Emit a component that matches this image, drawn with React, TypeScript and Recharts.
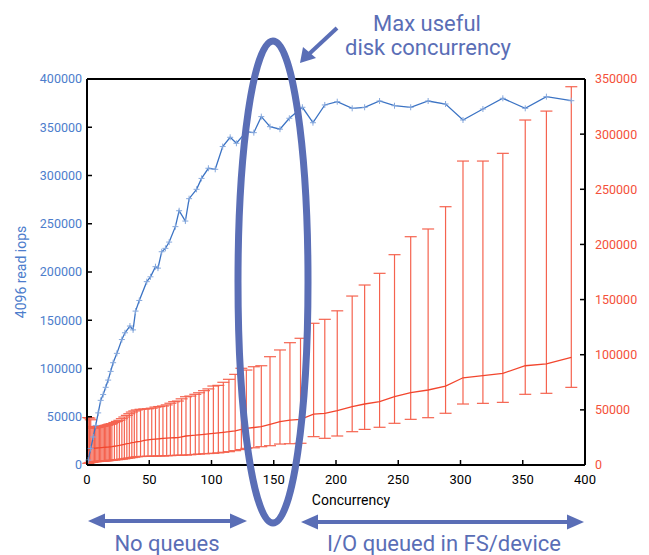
import React from 'react';
import { ComposedChart, Line, XAxis, YAxis, ErrorBar } from 'recharts';

// ---- data ----
const blueX = [1, 3, 5, 7, 9, 11, 13, 15, 17, 19, 21, 24, 28, 30.5, 34.5, 37, 39, 42, 48, 51, 55, 57, 60, 63, 66, 71, 74, 79, 82, 88, 92, 97.5, 103, 109, 115, 120, 128, 134, 140, 147, 155, 162.5, 173, 181.5, 191, 201, 213, 223, 235, 247, 260, 274, 288, 302, 318, 334, 352, 369, 389];
const blueIops = [5000, 17000, 29000, 41000, 54000, 67000, 73000, 80500, 88000, 97000, 106000, 115700, 130000, 137000, 144000, 140000, 159500, 170500, 190000, 195000, 205500, 204000, 221000, 224500, 231000, 247000, 263500, 252800, 276000, 285700, 297000, 307500, 306400, 330000, 339600, 333400, 345400, 344400, 361000, 350600, 348000, 359300, 370700, 354700, 373100, 376500, 369600, 370700, 377200, 372300, 370700, 377200, 374100, 357500, 368900, 380000, 369600, 381700, 377500];

const redX = [1, 2, 3, 4, 5, 6, 7, 8, 9, 10, 11, 12, 13, 14, 15, 16, 17, 18, 19, 20, 22, 24, 26, 28, 30, 32, 34, 36, 38, 40, 43, 46, 49, 52, 55, 58, 61, 64, 67, 70, 73, 76, 79.5, 83, 87, 90, 94, 97.5, 101.5, 105.5, 109.5, 114, 119, 124, 128, 134, 140, 147, 155, 163, 171.5, 182, 191, 201, 213, 223, 235, 247, 260, 274, 288, 302, 318, 334, 352, 369, 389];
const redMean = [13500, 14200, 14700, 15000, 15100, 15200, 15300, 15400, 15500, 15600, 15700, 15800, 15900, 16000, 16100, 16200, 16300, 16400, 16500, 16600, 17000, 17400, 17800, 18300, 18800, 19300, 19700, 20200, 20600, 21100, 21500, 22300, 22800, 23200, 23500, 23800, 24200, 24400, 24600, 24700, 24800, 25400, 26300, 26600, 27000, 27400, 27800, 28200, 28700, 29100, 29600, 30200, 31000, 32200, 33300, 34000, 34700, 36800, 39300, 40600, 41400, 46200, 46900, 49200, 52900, 55300, 57400, 61900, 65600, 68000, 71600, 79100, 81000, 83100, 90000, 91600, 97600];
const redLow = [1500, 2000, 2500, 2500, 2800, 3000, 3000, 3200, 3200, 3400, 3400, 3500, 3600, 3700, 3800, 3900, 4000, 4100, 4200, 4300, 4500, 4800, 5000, 5300, 5600, 6000, 6300, 6700, 7100, 7500, 7700, 7800, 7900, 8000, 8100, 8200, 8200, 8400, 8500, 8700, 8800, 8900, 9000, 9300, 9600, 9900, 10200, 10400, 10600, 11000, 11500, 12100, 13000, 14000, 15100, 15600, 16600, 17500, 19000, 19300, 19700, 25700, 24200, 26300, 30200, 32300, 34200, 37800, 41400, 42900, 46900, 55300, 55900, 56800, 64100, 65000, 70400];
const redHigh = [43000, 42500, 41000, 35000, 33500, 33500, 34000, 34000, 34500, 34500, 35000, 35000, 35500, 35500, 36000, 36000, 36500, 37000, 37000, 37500, 38500, 39500, 40500, 42000, 43500, 45000, 46500, 48000, 49000, 49900, 50500, 50800, 51000, 51500, 52500, 53000, 53500, 54500, 56000, 57400, 58000, 60000, 61900, 62500, 64100, 65500, 67400, 69000, 71600, 72200, 75000, 77700, 82200, 87700, 86100, 89100, 90000, 98200, 104300, 110900, 114900, 128500, 132100, 139800, 153200, 163200, 173800, 190700, 207000, 214000, 234200, 275600, 275600, 282600, 312800, 320900, 343000];

const xTicks = [0, 50, 100, 150, 200, 250, 300, 350, 400];
const leftTicks = [0, 50000, 100000, 150000, 200000, 250000, 300000, 350000, 400000];
const rightTicks = [0, 50000, 100000, 150000, 200000, 250000, 300000, 350000];

const blueData = blueX.map((x, i) => ({ x, iops: blueIops[i] }));
const redData = redX.map((x, i) => ({
  x,
  mean: redMean[i],
  err: [redMean[i] - redLow[i], redHigh[i] - redMean[i]],
}));

// ---- colours ----
const BLUE_LINE = '#3b73c4';
const BLUE_MARK = '#86a8dc';
const BLUE_TEXT = '#4d7dcc';
const RED_LINE = '#f2462e';
const RED_BAR = '#f5634f';
const RED_TEXT = '#f4503a';
const NOTE = '#5a6eb6';
const FONT = 'Roboto, sans-serif';

const BottomTick = (p: any) => (
  <g>
    <line x1={p.x} x2={p.x} y1={p.y - 10} y2={p.y - 15} stroke="#000" strokeWidth={1.5} />
    <text x={p.x} y={p.y} dy="0.71em" textAnchor="middle" fill="#000" fontSize={13} fontFamily={FONT}>
      {p.payload.value}
    </text>
  </g>
);
const TopTick = (p: any) => (
  <line x1={p.x} x2={p.x} y1={p.y} y2={p.y + 5} stroke="#000" strokeWidth={1.5} />
);
const LeftTick = (p: any) => (
  <g>
    <line x1={p.x + 5} x2={p.x + 10} y1={p.y} y2={p.y} stroke="#000" strokeWidth={1.5} />
    <text x={p.x} y={p.y} dy="0.355em" textAnchor="end" fill={BLUE_TEXT} fontSize={12.5} fontFamily={FONT}>
      {p.payload.value}
    </text>
  </g>
);
const RightTick = (p: any) => (
  <g>
    <line x1={p.x - 10} x2={p.x - 15} y1={p.y} y2={p.y} stroke="#000" strokeWidth={1.5} />
    <text x={p.x} y={p.y} dy="0.355em" textAnchor="start" fill={RED_TEXT} fontSize={12.5} fontFamily={FONT}>
      {p.payload.value}
    </text>
  </g>
);

const PlusDot = (p: any) => {
  const { cx, cy, index } = p;
  if (cx == null || cy == null) return <g key={index} />;
  return (
    <path
      key={index}
      d={`M${cx - 3},${cy}h6M${cx},${cy - 3}v6`}
      stroke={BLUE_MARK}
      strokeWidth={1}
      fill="none"
    />
  );
};

const axisLine = { stroke: '#000', strokeWidth: 2 };

export default function App() {
  return (
    <div style={{ position: 'absolute', left: 0, top: 0, width: 649, height: 555, fontFamily: FONT, background: '#fff' }}>
      <ComposedChart width={649} height={555} margin={{ top: 0, right: 0, bottom: 0, left: 0 }}>
        <XAxis
          xAxisId="bottom"
          dataKey="x"
          type="number"
          domain={[0, 400]}
          ticks={xTicks}
          interval={0}
          height={90}
          axisLine={axisLine}
          tickLine={false}
          tickSize={0}
          tickMargin={10}
          tick={(p: any) => <BottomTick {...p} />}
        />
        <XAxis
          xAxisId="top"
          orientation="top"
          dataKey="x"
          type="number"
          domain={[0, 400]}
          ticks={xTicks}
          interval={0}
          height={79}
          axisLine={axisLine}
          tickLine={false}
          tickSize={0}
          tickMargin={0}
          tick={(p: any) => <TopTick {...p} />}
        />
        <YAxis
          yAxisId="left"
          type="number"
          domain={[0, 400000]}
          ticks={leftTicks}
          interval={0}
          width={87}
          axisLine={axisLine}
          tickLine={false}
          tickSize={0}
          tickMargin={5}
          tick={(p: any) => <LeftTick {...p} />}
        />
        <YAxis
          yAxisId="right"
          orientation="right"
          type="number"
          domain={[0, 350000]}
          ticks={rightTicks}
          interval={0}
          width={64}
          axisLine={axisLine}
          tickLine={false}
          tickSize={0}
          tickMargin={10}
          tick={(p: any) => <RightTick {...p} />}
        />
        <Line
          xAxisId="bottom"
          yAxisId="right"
          data={redData}
          dataKey="mean"
          stroke={RED_LINE}
          strokeWidth={1.3}
          dot={false}
          isAnimationActive={false}
        >
          <ErrorBar dataKey="err" width={6} stroke={RED_BAR} strokeWidth={1.2} direction="y" isAnimationActive={false} />
        </Line>
        <Line
          xAxisId="bottom"
          yAxisId="left"
          data={blueData}
          dataKey="iops"
          stroke={BLUE_LINE}
          strokeWidth={1.3}
          dot={PlusDot}
          isAnimationActive={false}
        />
      </ComposedChart>
      <svg
        width={649}
        height={555}
        style={{ position: 'absolute', left: 0, top: 0, pointerEvents: 'none' }}
      >
        <text
          x={21}
          y={272}
          transform="rotate(-90, 21, 272)"
          textAnchor="middle"
          dominantBaseline="central"
          fill={BLUE_TEXT}
          fontSize={14}
          fontFamily={FONT}
        >
          4096 read iops
        </text>
        <text x={351} y={505} textAnchor="middle" fill="#000" fontSize={14} fontFamily={FONT}>
          Concurrency
        </text>
        <ellipse cx={273} cy={282} rx={35} ry={241} fill="none" stroke={NOTE} strokeWidth={7} />
        <line x1={337} y1={28} x2={309} y2={54} stroke={NOTE} strokeWidth={4} />
        <polygon points="300,63 303,47 316,58" fill={NOTE} />
        <text x={427} y={31} textAnchor="middle" fill={NOTE} fontSize={22} fontFamily={FONT}>
          Max useful
        </text>
        <text x={428} y={55} textAnchor="middle" fill={NOTE} fontSize={22} fontFamily={FONT}>
          disk concurrency
        </text>
        <line x1={100} y1={521} x2={235} y2={521} stroke={NOTE} strokeWidth={4} />
        <polygon points="88,521 105,513.5 105,528.5" fill={NOTE} />
        <polygon points="247,521 230,513.5 230,528.5" fill={NOTE} />
        <line x1={314} y1={522} x2={572} y2={522} stroke={NOTE} strokeWidth={4} />
        <polygon points="301,522 318,514.5 318,529.5" fill={NOTE} />
        <polygon points="584,522 567,514.5 567,529.5" fill={NOTE} />
        <text x={167} y={551} textAnchor="middle" fill={NOTE} fontSize={22} fontFamily={FONT}>
          No queues
        </text>
        <text x={444} y={551} textAnchor="middle" fill={NOTE} fontSize={22} fontFamily={FONT}>
          I/O queued in FS/device
        </text>
      </svg>
    </div>
  );
}
